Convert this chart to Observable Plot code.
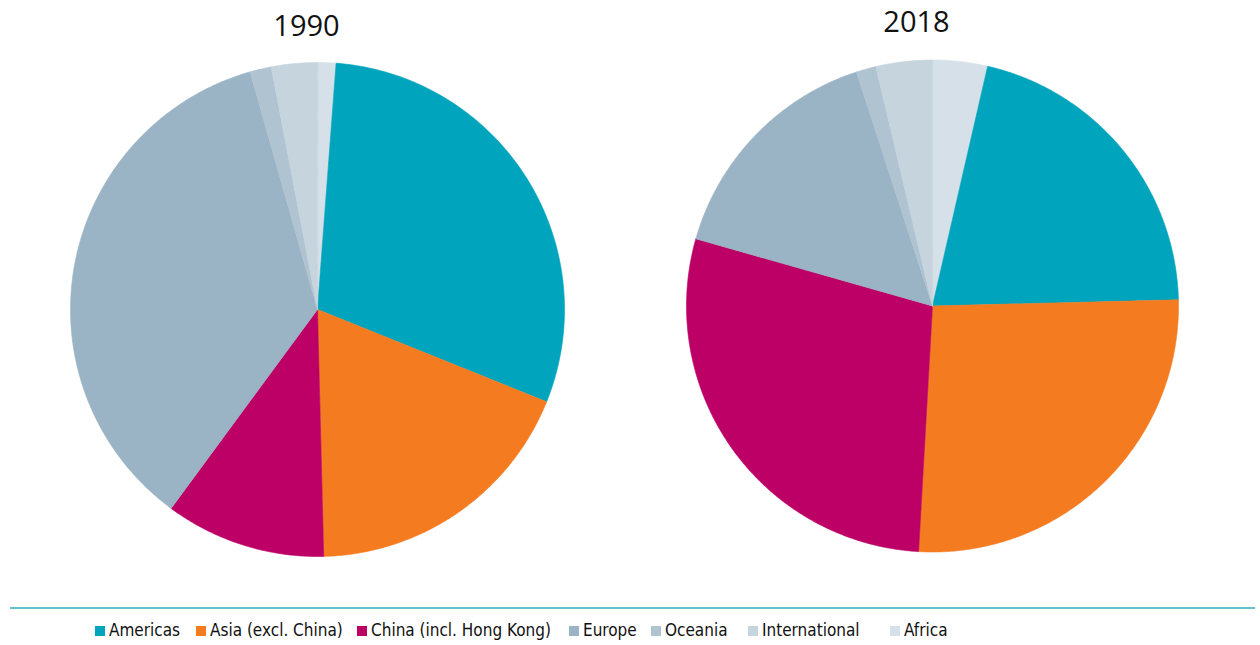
<!DOCTYPE html>
<html><head><meta charset="utf-8">
<script src="https://cdn.jsdelivr.net/npm/d3@7"></script>
<script src="https://cdn.jsdelivr.net/npm/@observablehq/plot@0.6"></script>
<style>
body{margin:0;background:#fff;}
#wrap{position:relative;width:1260px;height:645px;overflow:hidden;}
#legend{position:absolute;left:0;top:0;width:1260px;height:645px;pointer-events:none;}
.rule{position:absolute;left:10px;width:1245px;top:607px;height:2px;background:#62c3ce;}
.item{position:absolute;top:620px;font-family:"Liberation Sans Narrow","DejaVu Sans Condensed","Roboto",sans-serif;font-stretch:condensed;font-size:17px;color:#111;white-space:nowrap;line-height:20px;}
.sw{display:inline-block;width:10px;height:10px;margin-right:4px;vertical-align:0px;}
</style></head>
<body><div id="wrap"><div id="chart"></div><div id="legend"><div class="rule"></div></div></div>
<script>
const years = ["1990", "2018"];
const categories = ["Americas", "Asia (excl. China)", "China (incl. Hong Kong)", "Europe", "Oceania", "International", "Africa"];
const share1990 = [29.9, 18.5, 10.5, 35.5, 1.4, 3.0, 1.2];
const share2018 = [21.0, 26.3, 28.5, 15.6, 1.3, 3.7, 3.6];
const colors = ["#00a4bc", "#f47b20", "#bc0066", "#9bb4c5", "#b0c3d0", "#c6d4de", "#d6e0e8"];
// slices run clockwise from 12 o'clock, Africa first
const sliceOrder = [6, 0, 1, 2, 3, 4, 5];

const pieLayout = {
  "1990": {cx: 317, cy: 309, r: 247, tx: 306, ty: 26},
  "2018": {cx: 932, cy: 305.5, r: 246, tx: 916, ty: 22}
};
const shares = {"1990": share1990, "2018": share2018};

const pts = [];
for (const yr of years) {
  const L = pieLayout[yr];
  const vals = shares[yr];
  const total = d3.sum(vals);
  let acc = 0;
  for (const i of sliceOrder) {
    const a0 = acc / total * 2 * Math.PI;
    acc += vals[i];
    const a1 = acc / total * 2 * Math.PI;
    const key = yr + "|" + categories[i];
    pts.push({key, cat: categories[i], x: L.cx, y: L.cy});
    const n = Math.max(2, Math.ceil((a1 - a0) / (Math.PI / 360)));
    for (let k = 0; k <= n; k++) {
      const a = a0 + (a1 - a0) * k / n;
      pts.push({key, cat: categories[i], x: L.cx + L.r * Math.sin(a), y: L.cy - L.r * Math.cos(a)});
    }
  }
}

const chart = Plot.plot({
  width: 1260,
  height: 600,
  margin: 0,
  x: {domain: [0, 1260], range: [0, 1260], axis: null},
  y: {domain: [0, 600], range: [0, 600], axis: null},
  color: {domain: categories, range: colors},
  style: {background: "#fff"},
  marks: [
    Plot.line(pts, {x: "x", y: "y", z: "key", fill: "cat", stroke: "cat", strokeWidth: 0.6, curve: "linear-closed"}),
    Plot.text(years, {
      x: d => pieLayout[d].tx, y: d => pieLayout[d].ty, text: d => d,
      fontSize: 29, fill: "#111", fontFamily: "Open Sans, Noto Sans, sans-serif", textAnchor: "middle", lineAnchor: "middle"
    })
  ]
});
document.getElementById("chart").append(chart);

const legendX = [95, 196, 357, 569, 651, 748, 890];
const legend = document.getElementById("legend");
categories.forEach((c, i) => {
  const d = document.createElement("div");
  d.className = "item";
  d.style.left = legendX[i] + "px";
  d.innerHTML = `<span class="sw" style="background:${colors[i]}"></span>${c}`;
  legend.append(d);
});
</script>
</body></html>
